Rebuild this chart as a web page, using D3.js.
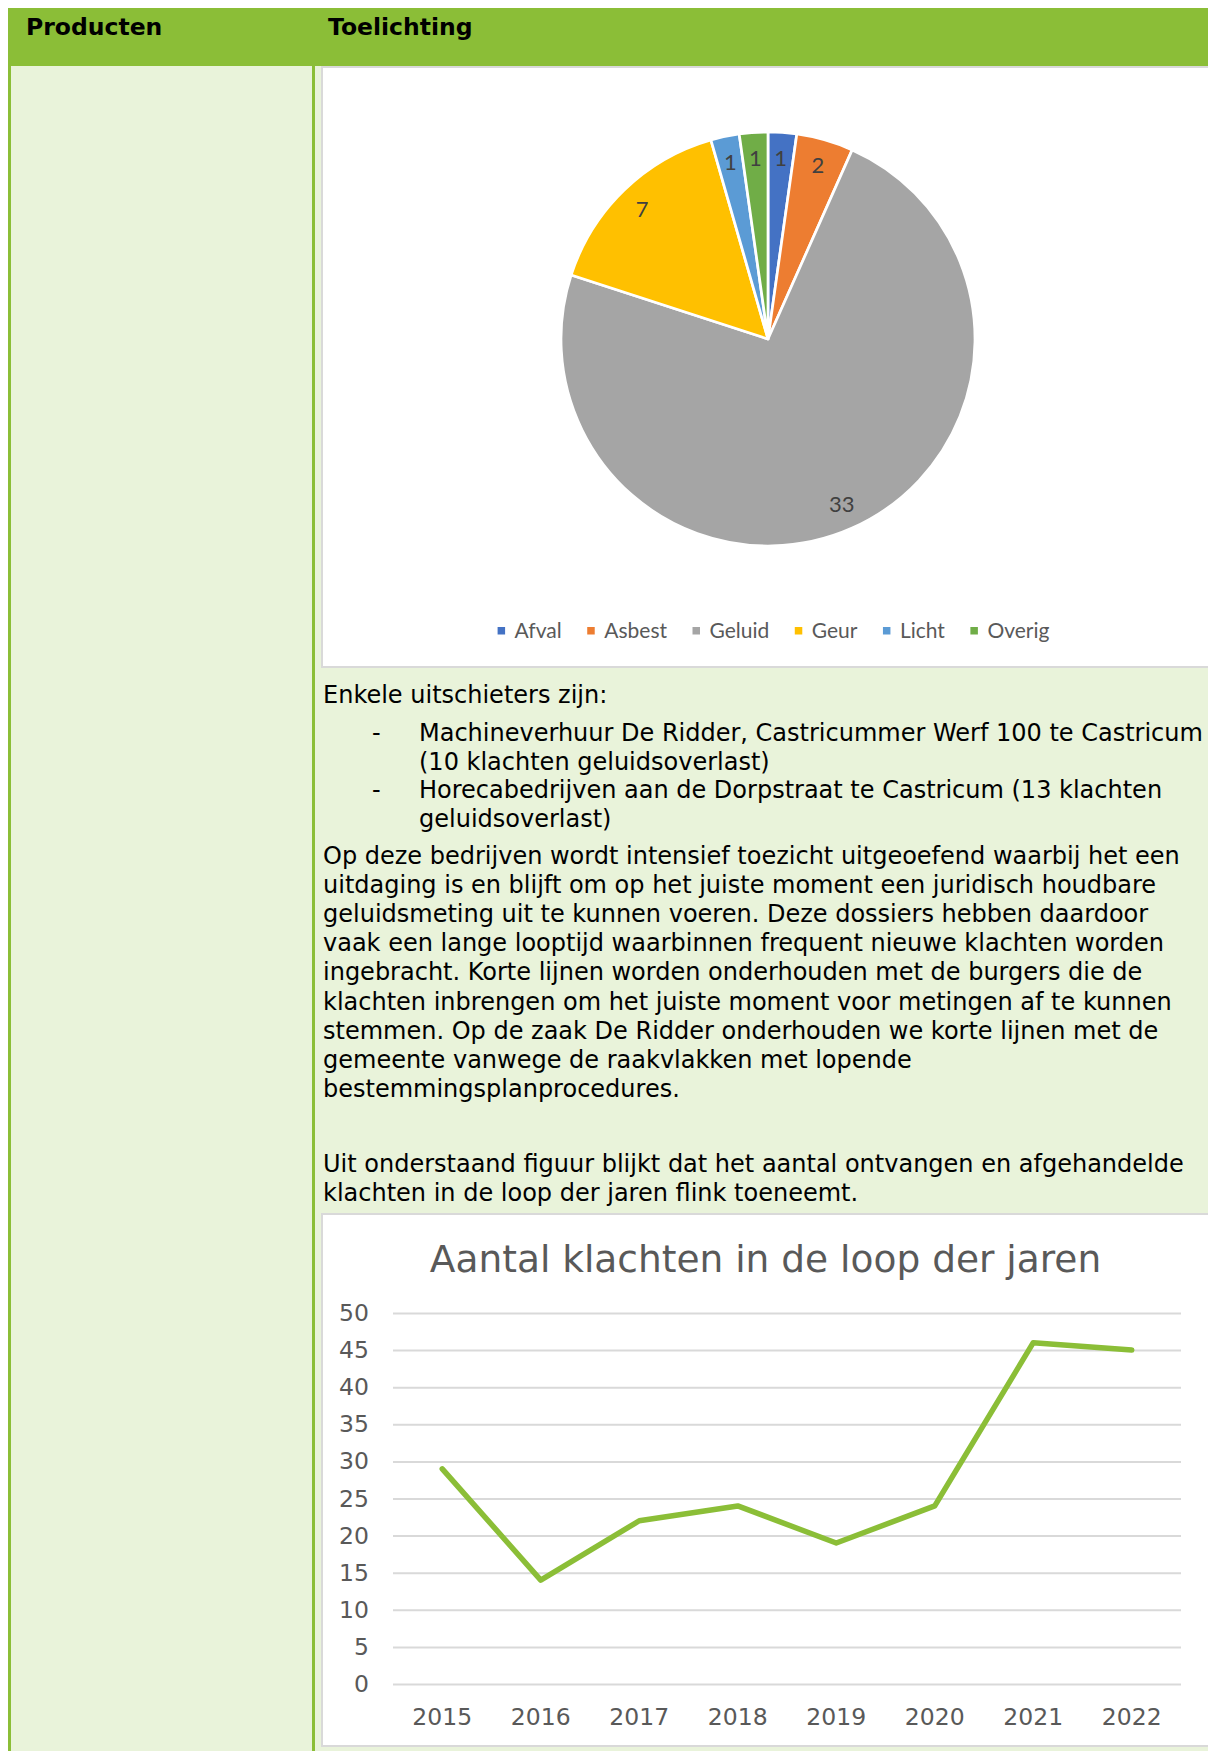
<!DOCTYPE html>
<meta charset="utf-8">
<title>Klachten</title>
<style>
body {
  margin: 0;
  background: #fff;
}
svg {
  display: block;
  font-family: "DejaVu Sans", Verdana, sans-serif;
}
.body-text {
  font-size: 24px;
  fill: #000;
}
.chart-text {
  fill: #595959;
}
</style>
<body>
<script src="https://cdnjs.cloudflare.com/ajax/libs/d3/7.8.5/d3.min.js"></script>
<script>
'use strict';

// pie: klachten per categorie
const pieCategories = ["Afval", "Asbest", "Geluid", "Geur", "Licht", "Overig"];
const pieValues = [1, 2, 33, 7, 1, 1];
const pieColors = ["#4472C4", "#ED7D31", "#A5A5A5", "#FFC000", "#5B9BD5", "#70AD47"];

// line: aantal klachten per jaar
const years = ["2015", "2016", "2017", "2018", "2019", "2020", "2021", "2022"];
const complaints = [29, 14, 22, 24, 19, 24, 46, 45];
const yTicks = [0, 5, 10, 15, 20, 25, 30, 35, 40, 45, 50];

const lineTitle = "Aantal klachten in de loop der jaren";

const bulletItems = [
  ["Machineverhuur De Ridder, Castricummer Werf 100 te Castricum", "(10 klachten geluidsoverlast)"],
  ["Horecabedrijven aan de Dorpstraat te Castricum (13 klachten", "geluidsoverlast)"]
];
const paragraph2 = [
  "Op deze bedrijven wordt intensief toezicht uitgeoefend waarbij het een",
  "uitdaging is en blijft om op het juiste moment een juridisch houdbare",
  "geluidsmeting uit te kunnen voeren. Deze dossiers hebben daardoor",
  "vaak een lange looptijd waarbinnen frequent nieuwe klachten worden",
  "ingebracht. Korte lijnen worden onderhouden met de burgers die de",
  "klachten inbrengen om het juiste moment voor metingen af te kunnen",
  "stemmen. Op de zaak De Ridder onderhouden we korte lijnen met de",
  "gemeente vanwege de raakvlakken met lopende",
  "bestemmingsplanprocedures."
];
const paragraph3 = [
  "Uit onderstaand figuur blijkt dat het aantal ontvangen en afgehandelde",
  "klachten in de loop der jaren flink toeneemt."
];

const W = 1208, H = 1751;
const green = "#8BBE37", lightGreen = "#E9F3DA", boxBorder = "#D9D9D9";

const svg = d3.select("body").append("svg")
    .attr("width", W)
    .attr("height", H);

// ---- table background ----
svg.append("rect").attr("x", 8).attr("y", 66).attr("width", W - 8).attr("height", H - 66).attr("fill", lightGreen);
svg.append("rect").attr("x", 8).attr("y", 8).attr("width", W - 8).attr("height", 58).attr("fill", green);
svg.append("rect").attr("x", 8).attr("y", 66).attr("width", 3).attr("height", H - 66).attr("fill", green);
svg.append("rect").attr("x", 312).attr("y", 66).attr("width", 3).attr("height", H - 66).attr("fill", green);

svg.append("text").attr("x", 26).attr("y", 35)
    .style("font-size", "23.5px").style("font-weight", "bold").text("Producten");
svg.append("text").attr("x", 328).attr("y", 35)
    .style("font-size", "23.5px").style("font-weight", "bold").text("Toelichting");

// ---- pie chart box ----
svg.append("rect").attr("x", 322).attr("y", 67).attr("width", 900).attr("height", 600)
    .attr("fill", "#fff").attr("stroke", boxBorder).attr("stroke-width", 2);

const pieG = svg.append("g").attr("transform", "translate(768,339)");
const radius = 207;
const pie = d3.pie().sort(null).value(d => d);
const arc = d3.arc().innerRadius(0).outerRadius(radius);
const labelArc = d3.arc().innerRadius(radius * 0.75).outerRadius(radius);
const arcs = pie(pieValues);

pieG.selectAll("path.slice")
    .data(arcs)
  .enter().append("path")
    .attr("class", "slice")
    .attr("d", arc)
    .attr("fill", (d, i) => pieColors[i])
    .attr("stroke", "#fff")
    .attr("stroke-width", 2.7)
    .attr("stroke-linejoin", "round");

pieG.selectAll("text.lbl")
    .data(arcs)
  .enter().append("text")
    .attr("class", "lbl")
    .attr("transform", d => "translate(" + labelArc.centroid(d) + ")")
    .attr("text-anchor", "middle")
    .attr("dy", "0.36em")
    .style("font-family", "Lato, sans-serif")
    .style("font-size", "22px")
    .style("fill", "#404040")
    .text(d => d.data);

// legend, centred under the pie
const legend = svg.append("g").attr("transform", "translate(0,638)");
const items = legend.selectAll("g")
    .data(pieCategories)
  .enter().append("g");
items.append("rect")
    .attr("y", -11).attr("width", 7.5).attr("height", 7.5)
    .attr("fill", (d, i) => pieColors[i]);
items.append("text")
    .attr("x", 17)
    .style("font-family", "Lato, sans-serif")
    .style("font-size", "21px")
    .style("fill", "#595959")
    .text(d => d);
let offs = [], cur = 0;
items.each(function () {
  const w = d3.select(this).select("text").node().getComputedTextLength();
  offs.push(cur);
  cur += 17 + w + 25.5;
});
const legendW = cur - 25.5;
const legendX0 = 773.5 - legendW / 2;
items.attr("transform", (d, i) => "translate(" + (legendX0 + offs[i]) + ",0)");

// ---- body text ----
const txt = svg.append("g").attr("class", "body-text");
txt.append("text").attr("x", 323).attr("y", 703).text("Enkele uitschieters zijn:");
let by = 741;
bulletItems.forEach(lines => {
  txt.append("text").attr("x", 372).attr("y", by).text("-");
  lines.forEach(l => {
    txt.append("text").attr("x", 419).attr("y", by).text(l);
    by += 28.7;
  });
});
paragraph2.forEach((l, i) => {
  txt.append("text").attr("x", 323).attr("y", 864 + i * 29.1).text(l);
});
paragraph3.forEach((l, i) => {
  txt.append("text").attr("x", 323).attr("y", 1172 + i * 29.1).text(l);
});

// ---- line chart box ----
svg.append("rect").attr("x", 322).attr("y", 1214).attr("width", 900).attr("height", 532)
    .attr("fill", "#fff").attr("stroke", boxBorder).attr("stroke-width", 2);

svg.append("text")
    .attr("class", "chart-text")
    .attr("x", 765.5).attr("y", 1272)
    .attr("text-anchor", "middle")
    .style("font-size", "37.5px")
    .text(lineTitle);

const x = d3.scaleBand().domain(years).range([393, 1181]);
const y = d3.scaleLinear().domain([0, 50]).range([1684, 1313]);

const yAxis = svg.append("g")
    .attr("transform", "translate(393,0)")
    .call(d3.axisLeft(y).tickValues(yTicks).tickSize(-(1181 - 393)).tickPadding(24));
yAxis.select(".domain").remove();
yAxis.selectAll(".tick line").attr("stroke", boxBorder).attr("stroke-width", 2);
yAxis.selectAll(".tick text")
    .attr("fill", "#595959")
    .style("font-family", "DejaVu Sans, Verdana, sans-serif")
    .style("font-size", "23.5px");

const xAxis = svg.append("g")
    .attr("transform", "translate(0,1684)")
    .call(d3.axisBottom(x).tickSize(0).tickPadding(24.5));
xAxis.select(".domain").remove();
xAxis.selectAll(".tick text")
    .attr("fill", "#595959")
    .style("font-family", "DejaVu Sans, Verdana, sans-serif")
    .style("font-size", "23.5px");

const line = d3.line()
    .x((d, i) => x(years[i]) + x.bandwidth() / 2)
    .y(d => y(d));

svg.append("path")
    .datum(complaints)
    .attr("d", line)
    .attr("fill", "none")
    .attr("stroke", green)
    .attr("stroke-width", 5.5)
    .attr("stroke-linejoin", "round")
    .attr("stroke-linecap", "round");
</script>
</body>
